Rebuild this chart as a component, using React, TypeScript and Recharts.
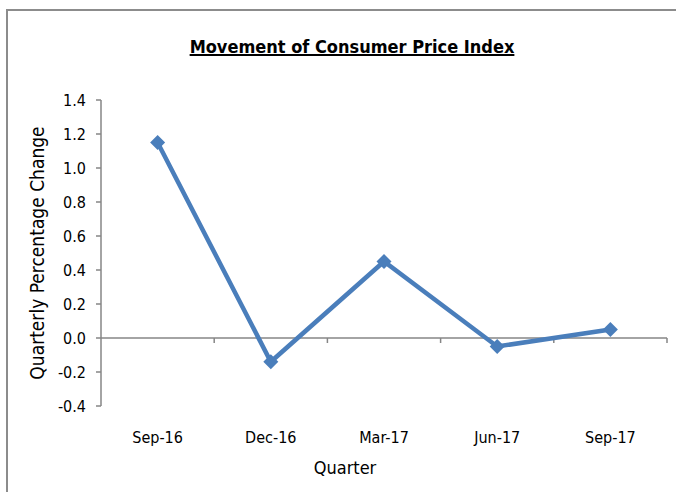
import React from "react";
import { CartesianGrid, Line, LineChart, ReferenceLine, XAxis, YAxis } from "recharts";

// Quarterly CPI movement.
const QUARTERS = ["Sep-16", "Dec-16", "Mar-17", "Jun-17", "Sep-17"];
const CPI_CHANGE = [1.15, -0.14, 0.45, -0.05, 0.05];
const Y_TICKS = [-0.4, -0.2, 0, 0.2, 0.4, 0.6, 0.8, 1.0, 1.2, 1.4];

const FONT = "'Liberation Sans Narrow', 'Arial Narrow', 'DejaVu Sans Condensed', sans-serif";
const AXIS_GREY = "#868686";
const LINE_BLUE = "#4a7ebb";

const data = QUARTERS.map((q, i) => ({ quarter: q, value: CPI_CHANGE[i] }));

function Diamond(props: any) {
  const { cx, cy, index } = props;
  if (cx == null || cy == null) return null;
  const r = 7.5;
  return (
    <path
      key={index}
      d={`M${cx},${cy - r}L${cx + r},${cy}L${cx},${cy + r}L${cx - r},${cy}Z`}
      fill={LINE_BLUE}
    />
  );
}

// zero line acting as the category axis, with tick marks on the category boundaries
function ZeroAxis(props: any) {
  const { x1, y1, x2 } = props;
  if (x1 == null) return null;
  const step = (x2 - x1) / QUARTERS.length;
  return (
    <g>
      <line x1={x1} y1={y1} x2={x2} y2={y1} stroke={AXIS_GREY} strokeWidth={1.5} />
      {QUARTERS.map((_, i) => (
        <line
          key={i}
          x1={x1 + step * (i + 1)}
          x2={x1 + step * (i + 1)}
          y1={y1}
          y2={y1 + 5}
          stroke={AXIS_GREY}
          strokeWidth={1.5}
        />
      ))}
    </g>
  );
}

export default function App() {
  return (
    <div
      style={{
        position: "absolute",
        left: 0,
        top: 0,
        width: 676,
        height: 492,
        background: "#fff",
        fontFamily: FONT,
      }}
    >
      <div
        style={{
          position: "absolute",
          left: 6,
          top: 9,
          width: 670,
          height: 483,
          borderLeft: "2px solid #8c8c8c",
          borderTop: "2px solid #8c8c8c",
        }}
      />
      <div
        style={{
          position: "absolute",
          left: 0,
          top: 36,
          width: 704,
          textAlign: "center",
          fontSize: 18,
          fontWeight: "bold",
          textDecoration: "underline",
          textDecorationThickness: 2,
          color: "#000",
        }}
      >
        Movement of Consumer Price Index
      </div>
      <div
        style={{
          position: "absolute",
          left: 37,
          top: 253,
          transform: "translate(-50%, -50%) rotate(-90deg)",
          whiteSpace: "nowrap",
          fontSize: 19,
          color: "#000",
        }}
      >
        Quarterly Percentage Change
      </div>
      <div
        style={{
          position: "absolute",
          left: 345,
          top: 467,
          transform: "translate(-50%, -50%)",
          fontSize: 18,
          color: "#000",
        }}
      >
        Quarter
      </div>
      <div style={{ position: "absolute", left: 0, top: 0 }}>
        <LineChart
          width={676}
          height={492}
          data={data}
          margin={{ top: 100, right: 9, bottom: 42, left: 41 }}
        >
          <CartesianGrid stroke="none" />
          <XAxis
            dataKey="quarter"
            scale="band"
            axisLine={false}
            tickLine={false}
            tickMargin={20}
            height={44}
            tick={{ fontSize: 16, fill: "#000", fontFamily: FONT }}
          />
          <YAxis
            domain={[-0.4, 1.4]}
            ticks={Y_TICKS}
            interval={0}
            width={60}
            tickFormatter={(v: number) => v.toFixed(1)}
            axisLine={{ stroke: AXIS_GREY, strokeWidth: 1.5 }}
            tickLine={{ stroke: AXIS_GREY, strokeWidth: 1.5 }}
            tickSize={5}
            tickMargin={10}
            tick={{ fontSize: 16, fill: "#000", fontFamily: FONT }}
          />
          <ReferenceLine y={0} shape={ZeroAxis} />
          <Line
            dataKey="value"
            stroke={LINE_BLUE}
            strokeWidth={4.5}
            dot={Diamond}
            activeDot={false}
            isAnimationActive={false}
          />
        </LineChart>
      </div>
    </div>
  );
}
